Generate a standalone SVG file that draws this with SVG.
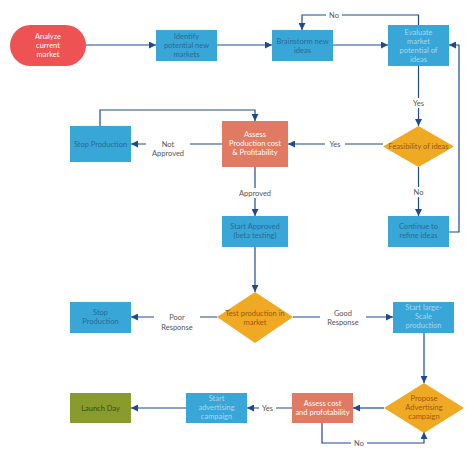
<svg xmlns="http://www.w3.org/2000/svg" width="474" height="459" viewBox="0 0 474 459">
<style>
text{font-family:Lato,"Open Sans","Liberation Sans",sans-serif;font-size:7.5px;text-anchor:middle}
.blue{fill:#38a6d6}
.coral{fill:#e07a62}
.gold{fill:#f0a922}
.olive{fill:#8a9b2e}
.red{fill:#ee5252}
.tb{fill:#2a6a98}
.tl{fill:#a8d6f0}
.tw{fill:#ffffff}
.tg{fill:#9a5a12}
.to{fill:#3f4a12}
.lbl{fill:#555555}
.c{fill:none;stroke:#1f4a8e;stroke-width:1.2}
.lb{fill:#ffffff}
</style>
<defs>
<marker id="ah" viewBox="0 0 10 10" refX="10" refY="5" markerWidth="7" markerHeight="7" markerUnits="userSpaceOnUse" orient="auto">
<path d="M0,0 L10,5 L0,10 z" fill="#1f4a8e"/>
</marker>
</defs>
<rect width="474" height="459" fill="#ffffff"/>
<g id="connectors">
<path class="c" d="M86,45 H156" marker-end="url(#ah)"/>
<path class="c" d="M217,45 H272" marker-end="url(#ah)"/>
<path class="c" d="M333,45 H388" marker-end="url(#ah)"/>
<path class="c" d="M418.5,25 V15 H302 V30" marker-end="url(#ah)"/>
<rect class="lb" x="326" y="10" width="16" height="10"/>
<text class="lbl" x="334" y="17.5">No</text>
<path class="c" d="M418.5,66 V126" marker-end="url(#ah)"/>
<rect class="lb" x="408" y="98" width="21" height="10"/>
<text class="lbl" x="418.5" y="105.5">Yes</text>
<path class="c" d="M418.5,167 V216" marker-end="url(#ah)"/>
<rect class="lb" x="408" y="187" width="21" height="10"/>
<text class="lbl" x="418.5" y="194.5">No</text>
<path class="c" d="M449,232 H459 V45 H449" marker-end="url(#ah)"/>
<path class="c" d="M383,144 H288" marker-end="url(#ah)"/>
<rect class="lb" x="325" y="139" width="20" height="10"/>
<text class="lbl" x="335" y="146.5">Yes</text>
<path class="c" d="M100,126 V110 H255 V121" marker-end="url(#ah)"/>
<path class="c" d="M222,144 H131" marker-end="url(#ah)"/>
<rect class="lb" x="146" y="136" width="44" height="18"/>
<text class="lbl" x="168" y="146.5">Not</text>
<text class="lbl" x="168" y="156">Approved</text>
<path class="c" d="M255,167 V216" marker-end="url(#ah)"/>
<rect class="lb" x="236" y="188" width="38" height="10"/>
<text class="lbl" x="255" y="195.5">Approved</text>
<path class="c" d="M255,247 V292" marker-end="url(#ah)"/>
<path class="c" d="M217,317 H131" marker-end="url(#ah)"/>
<rect class="lb" x="154" y="310" width="46" height="18"/>
<text class="lbl" x="177" y="320">Poor</text>
<text class="lbl" x="177" y="329.5">Response</text>
<path class="c" d="M293,317 H393" marker-end="url(#ah)"/>
<rect class="lb" x="320" y="306" width="46" height="20"/>
<text class="lbl" x="343" y="315.5">Good</text>
<text class="lbl" x="343" y="325">Response</text>
<path class="c" d="M424,333 V383" marker-end="url(#ah)"/>
<path class="c" d="M384,408 H353" marker-end="url(#ah)"/>
<path class="c" d="M322,423 V443 H424 V432" marker-end="url(#ah)"/>
<rect class="lb" x="351" y="438" width="16" height="10"/>
<text class="lbl" x="359" y="445.5">No</text>
<path class="c" d="M292,408 H247" marker-end="url(#ah)"/>
<rect class="lb" x="259" y="403" width="17" height="10"/>
<text class="lbl" x="267.5" y="410.5">Yes</text>
<path class="c" d="M186,408 H131" marker-end="url(#ah)"/>
</g>
<g id="analyze">
<rect class="red" x="10" y="25" width="76" height="41" rx="20.5"/>
<text class="tw" x="48" y="39">Analyze</text>
<text class="tw" x="48" y="48">current</text>
<text class="tw" x="48" y="57">market</text>
</g>
<g id="identify">
<rect class="blue" x="156" y="30" width="61" height="31"/>
<text class="tb" x="186.5" y="39">Identify</text>
<text class="tb" x="186.5" y="48">potential new</text>
<text class="tb" x="186.5" y="57">markets</text>
</g>
<g id="brainstorm">
<rect class="blue" x="272" y="30" width="61" height="31"/>
<text class="tb" x="302.5" y="44">Brainstorm new</text>
<text class="tb" x="302.5" y="53">ideas</text>
</g>
<g id="evaluate">
<rect class="blue" x="388" y="25" width="61" height="41"/>
<text class="tl" x="418.5" y="35">Evaluate</text>
<text class="tl" x="418.5" y="44">market</text>
<text class="tl" x="418.5" y="53">potential of</text>
<text class="tl" x="418.5" y="62">ideas</text>
</g>
<g id="feasibility">
<polygon class="gold" points="418.5,126 454,146.5 418.5,167 383,146.5"/>
<text class="tg" x="418.5" y="149">Feasibility of ideas</text>
</g>
<g id="continue">
<rect class="blue" x="388" y="216" width="61" height="31"/>
<text class="tb" x="418.5" y="229">Continue to</text>
<text class="tb" x="418.5" y="238">refine ideas</text>
</g>
<g id="assess-production">
<rect class="coral" x="222" y="121" width="66" height="46"/>
<text class="tw" x="255" y="137">Assess</text>
<text class="tw" x="255" y="146">Production cost</text>
<text class="tw" x="255" y="155">&amp; Profitability</text>
</g>
<g id="stop-production-1">
<rect class="blue" x="70" y="126" width="61" height="36"/>
<text class="tb" x="100.5" y="146.5">Stop Production</text>
</g>
<g id="start-approved">
<rect class="blue" x="222" y="216" width="66" height="31"/>
<text class="tb" x="255" y="229">Start Approved</text>
<text class="tb" x="255" y="238">(beta testing)</text>
</g>
<g id="test-production">
<polygon class="gold" points="255,292 293,317 255,343 217,317"/>
<text class="tg" x="255" y="316">Test production in</text>
<text class="tg" x="255" y="325">market</text>
</g>
<g id="stop-production-2">
<rect class="blue" x="70" y="302" width="61" height="31"/>
<text class="tb" x="100.5" y="315">Stop</text>
<text class="tb" x="100.5" y="324">Production</text>
</g>
<g id="start-large">
<rect class="blue" x="393" y="302" width="61" height="31"/>
<text class="tl" x="423.5" y="310">Start large-</text>
<text class="tl" x="423.5" y="319">Scale</text>
<text class="tl" x="423.5" y="328">production</text>
</g>
<g id="propose">
<polygon class="gold" points="424,383 464,408 424,433 384,408"/>
<text class="tg" x="424" y="401">Propose</text>
<text class="tg" x="424" y="410">Advertising</text>
<text class="tg" x="424" y="419">campaign</text>
</g>
<g id="assess-cost">
<rect class="coral" x="292" y="393" width="61" height="30"/>
<text class="tw" x="322.5" y="406">Assess cost</text>
<text class="tw" x="322.5" y="415">and profotability</text>
</g>
<g id="start-advertising">
<rect class="blue" x="186" y="393" width="61" height="30"/>
<text class="tl" x="216.5" y="401">Start</text>
<text class="tl" x="216.5" y="410">advertising</text>
<text class="tl" x="216.5" y="419">campaign</text>
</g>
<g id="launch">
<rect class="olive" x="70" y="393" width="61" height="30"/>
<text class="to" x="100.5" y="410.5">Launch Day</text>
</g>
</svg>
